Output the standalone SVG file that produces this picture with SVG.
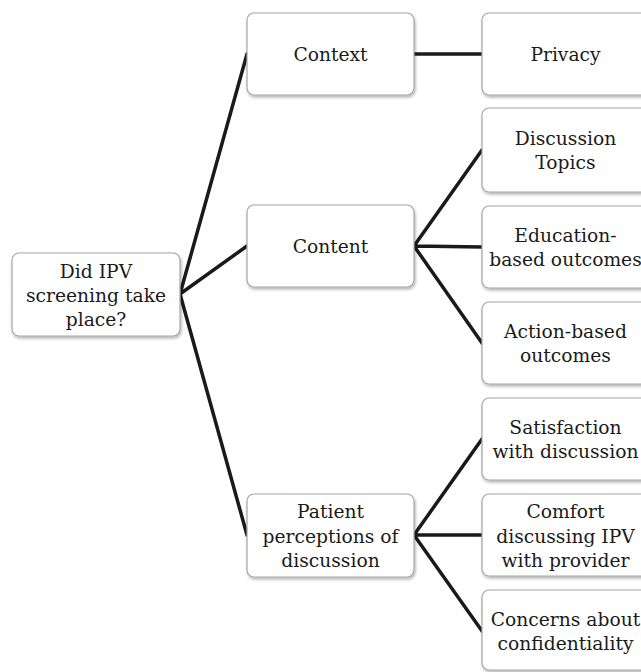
<svg xmlns="http://www.w3.org/2000/svg" width="641" height="672" viewBox="0 0 641 672">
<style>
.box{fill:#fff;stroke:#a6a6a6;stroke-width:1.2;filter:url(#sh)}
.t{font-family:"DejaVu Serif","Liberation Serif",serif;font-size:18.7px;fill:#1a1a1a;text-anchor:middle}
.c{stroke:#1a1a1a;stroke-width:3.5;fill:none;stroke-linecap:round}
</style>
<defs>
<filter id="sh" x="-10%" y="-10%" width="120%" height="130%">
<feDropShadow dx="1" dy="2" stdDeviation="1.5" flood-color="#000" flood-opacity="0.3"/>
</filter>
</defs>
<rect width="641" height="672" fill="#fff"/>
<g id="connectors">
<path class="c" d="M180 294 L247 54 M180 294 L247 246 M180 294 L247 535"/>
<path class="c" d="M414 54 L482 54"/>
<path class="c" d="M414 246 L482 150 M414 246 L482 247 M414 246 L482 343"/>
<path class="c" d="M414 535 L482 439 M414 535 L482 535 M414 535 L482 631"/>
</g>
<g id="root"><rect class="box" x="12" y="253" width="168" height="83" rx="7"/>
<text class="t" x="96" y="278">Did IPV</text><text class="t" x="96" y="302">screening take</text><text class="t" x="96" y="326">place?</text></g>
<g id="context"><rect class="box" x="247" y="13" width="167" height="82" rx="7"/><text class="t" x="330.5" y="61">Context</text></g>
<g id="content"><rect class="box" x="247" y="205" width="167" height="82" rx="7"/><text class="t" x="330.5" y="253">Content</text></g>
<g id="patient"><rect class="box" x="247" y="494" width="167" height="83" rx="7"/>
<text class="t" x="330.5" y="518">Patient</text><text class="t" x="330.5" y="543">perceptions of</text><text class="t" x="330.5" y="567">discussion</text></g>
<g id="privacy"><rect class="box" x="482" y="13" width="167" height="82" rx="7"/><text class="t" x="565.5" y="61">Privacy</text></g>
<g id="topics"><rect class="box" x="482" y="108" width="167" height="84" rx="7"/>
<text class="t" x="565.5" y="145">Discussion</text><text class="t" x="565.5" y="169">Topics</text></g>
<g id="education"><rect class="box" x="482" y="206" width="167" height="82" rx="7"/>
<text class="t" x="565.5" y="242">Education-</text><text class="t" x="565.5" y="266">based outcomes</text></g>
<g id="action"><rect class="box" x="482" y="302" width="167" height="82" rx="7"/>
<text class="t" x="565.5" y="338">Action-based</text><text class="t" x="565.5" y="362">outcomes</text></g>
<g id="satisfaction"><rect class="box" x="482" y="398" width="167" height="82" rx="7"/>
<text class="t" x="565.5" y="434">Satisfaction</text><text class="t" x="565.5" y="458">with discussion</text></g>
<g id="comfort"><rect class="box" x="482" y="494" width="167" height="82" rx="7"/>
<text class="t" x="565.5" y="518">Comfort</text><text class="t" x="565.5" y="543">discussing IPV</text><text class="t" x="565.5" y="567">with provider</text></g>
<g id="concerns"><rect class="box" x="482" y="590" width="167" height="80" rx="7"/>
<text class="t" x="565.5" y="626">Concerns about</text><text class="t" x="565.5" y="650">confidentiality</text></g>
</svg>
